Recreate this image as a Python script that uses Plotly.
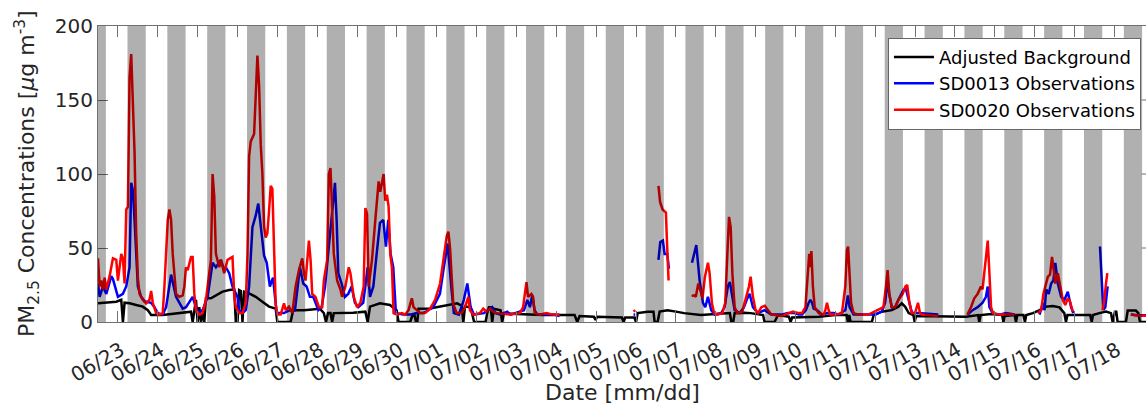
import plotly.graph_objects as go
from datetime import datetime, timedelta

# Hourly PM2.5 records, (hours after 06/23 00:00, value in ug/m3); None marks a data gap
BACKGROUND = [(-12,12.6),(-1,13.7),(2,15),(3,0),(4,13),(7,12.6),(11,11.5),(15,10.4),(18,8),(20,4.7),(27,4.7),(35,5.9),(44,7),(45,0),(46,7),(47,15),(48,0),(49,10),(50,0),(51,6),(52,0),(53,16),(56,16),(59,18),(63,20.5),(67,21.6),(70,22),(71,0),(72,0),(73,21.6),(74,21),(75,0),(76,20.5),(79,19.4),(83,17),(87,13.7),(91,10.4),(95,9),(96,0),(104,0),(105.5,8),(112,8),(121.6,9),(124,6),(125.3,0),(126.5,6),(128,6),(129,0),(130,6),(141.7,6.3),(149,7),(150.4,0),(151.8,10.4),(157.8,12.6),(163.8,11.5),(167.8,8),(169,0),(176,0),(177.5,5),(178.5,5),(179.5,0),(180.3,0),(181,9),(187.9,9.2),(193.9,10.4),(199.9,11.5),(204.3,12.6),(207,11),(208,0),(209,10.4),(212.4,10),(214.5,0),(221.4,0),(222.4,6),(223.4,10),(224.5,10),(225.4,0),(226.4,9),(230.4,8),(231.4,0),(232.4,6),(240,5.4),(256,4.7),(275,4.7),(276.6,0),(278,4),(286.6,3.6),(287.6,1.4),(288.6,3.6),(303.5,3),(304.5,0),(305.5,3),(311,3),(312,0),(313,6),(319,7),(322.5,7),(323.2,0),(325,0),(326.2,7),(331,8),(336,7),(341,6),(351,4.7),(361,5.2),(368.5,6),(369.4,0),(370.5,0),(371.4,6),(377,6.3),(381,6),(388.5,4.7),(389.4,0),(395.4,0),(397.5,4.7),(404,3.6),(405.1,0),(406,3),(422,3.6),(432,4.7),(438.8,4.7),(439.6,0),(440.4,4.7),(441.2,0),(454,0),(455.1,4.7),(460,7),(466,8),(470,10.4),(472,12.6),(474,10.4),(476.2,6),(479,4.7),(479.8,0),(480.6,4),(486,4),(496,3.6),(510.7,3.6),(518,4.7),(518.7,0),(519.5,4.7),(526,5.4),(532.5,4.7),(533.2,0),(534,4),(540,4.7),(540.8,0),(541.6,4.7),(545.3,4.7),(546.2,0),(547,4.7),(551,6),(555,8),(559,10.4),(563,10.8),(567,9.9),(569.9,6),(570.9,0),(571.8,4.7),(579,4.7),(585.5,4.7),(586.4,0),(587.2,4.7),(591,6),(595,7),(598,6),(599,0),(600.4,7),(601.2,7),(602,0),(607,0),(608.1,7.7),(613,7.7),(614.5,6),(615.5,0),(619.5,0)]

SD0013 = [(-12,26),(-11,17),(-9,24),(-7,19),(-4,31),(-3,29),(0,17),(3,19),(5,24),(7,37),(8,94),(9,89),(10,69),(11,42),(12,24),(14,17),(16,14),(20,13),(22,10),(24,6),(27,5),(29,10),(31,24),(32,32),(35,17),(37,13),(39,9),(41,10),(44,15),(45,17),(48,6),(51,8),(54,17),(56,33),(57,40),(59,37),(62,42),(64,35),(65,37),(67,33),(69,24),(72,17),(73,8),(75,6),(77,8),(79,24),(81,64),(83,72),(84.5,80),(86,65),(88,45),(89.6,40),(91.5,24),(93.4,30),(94.5,15),(95.6,6),(100,6),(103.6,8),(106.6,8),(109.6,37),(111.6,26),(113.6,24),(115.6,17),(117.6,17),(120.7,8),(122.7,10),(124.7,24),(126.7,46),(128.7,73),(130.7,94),(131.7,69),(132.7,33),(134.7,26),(136.7,17),(138.7,19),(140.7,24),(142.7,13),(144.7,10),(147.7,13),(150.4,37),(151.8,17),(153.8,24),(155.8,46),(157.8,67),(159.8,69),(161.4,51),(162.8,69),(164.2,46),(165.8,37),(167.4,6),(171.8,5),(175.9,5),(179.9,6),(183.9,6),(189.9,10),(193.9,19),(196,35),(198.5,53),(200.9,22),(202.3,6),(205.3,5),(208.3,15),(210.4,26),(211.4,19),(212.4,10),(214.4,5),(220.4,6),(225.4,10),(227.4,6),(230.4,5),(234.4,7),(236.5,5),(244.5,8),(246.5,15),(248.1,10),(249.5,18),(250.9,8),(252.5,5),(262.5,5),(266,4),(288,None),(310.5,5),(311.5,5),(318,None),(325.5,42),(326.6,54),(328.2,55),(329.2,46),(330.8,46),(331.8,36),(338,None),(345.7,40),(348.3,52),(350.3,28),(352.3,13),(353.7,10),(355.3,17),(357.3,8),(359.3,5),(363.3,6),(365.3,10),(367.3,24),(368.5,27),(370,17),(371.4,8),(374.4,6),(377,10),(379,16),(380.4,19),(382.4,10),(385.4,6),(389.4,8),(393.4,5),(399.5,5),(403.5,6),(407.5,6),(410,5),(412,5),(414.3,8),(416,13),(417,15),(418,13),(419,9),(421,8),(424,5),(427,6),(431,6),(434,5),(438,8),(439.6,18),(440.6,10),(443,5),(456,5),(460,7),(462,13),(463.5,28),(464.5,19),(466,10),(468,10),(470,15),(473.2,22),(474.6,22),(476.2,15),(478.2,6),(482,6),(494,5),(502,None),(511.7,5),(514.7,8),(517.7,10),(520.7,13),(522.7,17),(523.8,24),(524.8,10),(526.8,6),(530.8,5),(534.8,6),(540,5),(547,None),(555,5),(557,13),(558,8),(559,22),(560.5,19),(562,26),(563.3,28),(564.5,40),(566,26),(568,17),(570,15),(572,20.5),(574,10),(575.3,6),(584,None),(591.4,51),(592.6,28),(593.4,8),(594.6,10),(596,24),(603,None),(610,5),(614,4.5),(619.5,4.5)]

SD0020 = [(-12,43),(-11,24),(-10,28),(-9,22),(-8,30),(-7,22),(-5,31),(-3,43),(-1,42),(0,28),(2,46),(3,43),(4,26),(5,76),(6,78),(7,165),(8,181),(9,150),(10,115),(11,60),(12,30),(13,19),(15,15),(17,12.6),(19,15),(20,21),(21,13),(23,6),(25,5),(27,6),(28,24),(30,69),(31,76),(32,69),(33,46),(35,19),(37,17),(39,18),(40,24),(41,37),(42,35),(44,44),(45,44),(46,19),(47,8),(49,5),(51,6),(53,15),(56,42),(57,100),(58,85),(59,46),(61,37),(62,42),(63,37),(64,33),(66,42),(69,44),(70,19),(71,10),(73,6),(75,6),(77,13),(78,46),(79,112),(80,122),(82,127),(84,180),(85,160),(86,120),(87,100),(88,65),(89,57),(90,60),(91,75),(92,92),(93,90),(94,50),(95,12),(96,5),(98,5),(100,12.6),(101,8),(103,10.4),(105,6),(107,24),(109,35),(111,43),(112,33),(113,28),(115,55),(116,42),(117,19),(119,17),(121,10),(123,10),(124,28),(126,42),(127,100),(128,104),(129,69),(130,46),(132,28),(134,22),(135,17),(137,24),(139,37),(140,33),(142,17),(144,10),(146,13),(148,24),(149,77),(150,73),(151,24),(153,42),(155,69),(157,95),(158,88),(160,100),(161,82),(162,86),(163,78),(164,46),(165,37),(166,6),(168,5),(171,6),(173,5),(175,8),(177,16),(178,10),(180,8),(182,6),(185,6),(188,9),(191,15),(194,26),(196,42),(198,58),(199,61),(200,50),(201,30),(202,12),(204,6),(207,6),(209,10),(211,17),(212,8),(214,5),(218,6),(220,9),(222,7),(224,9),(226,7),(228,6),(236,5),(242,6),(244,10),(246,27),(247,17),(249,19),(250,17),(251,6),(254,5),(258,6),(262,5),(266,5),(288,None),(310.5,7),(311.5,8),(318,None),(325.5,92),(326.5,81),(328,76),(330,74),(330.6,55),(331.6,28),(338,None),(345.5,17.6),(347,18),(348,17),(349.5,26),(351,20.5),(352,16),(353.5,30.6),(355.3,40),(356.3,33),(357.7,12.6),(359,6),(361,5),(364,6),(365.7,12.6),(367,46),(368,71),(369,64),(370,33),(371.4,10),(373,6),(376,7),(378,15),(380,24),(381,30.6),(382.4,17),(384,8),(385.5,6),(387.5,10),(389.5,11),(391.5,8),(393.5,5),(399.5,4),(403.5,6),(406.5,7),(410,6),(412,6),(414,10),(415.5,37),(416.3,46),(417,37),(417.6,48),(418.5,24),(419.6,10),(422,6),(425,5),(426,8),(427,13),(428,8),(429,5),(432,5),(436,6),(438,24),(439,48.6),(439.7,51),(440.5,37),(441.5,13),(443,6),(446,5),(452,5),(454,6),(458,8),(461,10),(462.5,24),(463.5,35),(464.5,19),(466,10),(468,10),(470,15),(472.6,19),(474.2,24),(475.3,25),(476.6,13),(478,6),(480,6),(481.8,13),(483,6),(484,5),(494,4),(502,None),(511.5,5),(513.7,10),(515.7,16),(517.7,19),(519.7,24),(520.7,22),(521.7,33),(522.7,46),(523.8,55),(524.8,33),(525.8,10),(527,6),(531,5),(535,5),(540,5),(547,None),(554,6),(556,8),(557.3,19),(558.5,24),(560,30.6),(561.3,32),(562.5,44),(563.3,37),(564.5,26),(566,33),(567.3,24),(569,15),(570.5,11.5),(572,16),(573.3,14),(574.5,8),(575,7),(584,None),(593,8),(594,15),(595,26),(595.8,33),(603,None),(610,5.4),(612,4.5),(616,4.3),(619.5,4.3)]

SERIES_NAMES = ["Adjusted Background", "SD0013 Observations", "SD0020 Observations"]
SERIES_COLORS = ["#000000", "#0000ff", "#ff0000"]

# Daily shaded window (hours of day) and the days it is drawn for
SHADE_START_H = 5.75
SHADE_END_H = 16.75
SHADE_DAYS = list(range(-1, 27))

T0 = datetime(2016, 6, 23)
X_START_H, X_END_H = -12, 619.1
Y_TICKS = [0, 50, 100, 150, 200]


def at(h):
    return T0 + timedelta(hours=h)


AXIS_GRAY = "#707070"
TEXT_GRAY = "#262626"
FONT = "DejaVu Sans"

fig = go.Figure()
for data, name, color in zip([BACKGROUND, SD0013, SD0020], SERIES_NAMES, SERIES_COLORS):
    fig.add_trace(go.Scatter(
        x=[at(h) for h, _ in data],
        y=[v for _, v in data],
        mode="lines", name=name,
        line=dict(color=color, width=2.5),
        connectgaps=False,
    ))

shapes = []
for d in SHADE_DAYS:
    shapes.append(dict(
        type="rect", xref="x", yref="paper",
        x0=at(24 * d + SHADE_START_H), x1=at(24 * d + SHADE_END_H), y0=0, y1=1,
        fillcolor="rgba(0,0,0,0.31)", line=dict(width=0), layer="above",
    ))
# short tick stubs on the right-hand frame
for v in Y_TICKS[1:-1]:
    shapes.append(dict(
        type="line", xref="paper", yref="y", x0=1 - 4.5 / 1048, x1=1, y0=v, y1=v,
        line=dict(color=AXIS_GRAY, width=1), layer="above",
    ))

fig.update_layout(
    width=1146, height=406,
    margin=dict(l=98, r=0, t=26, b=84),
    plot_bgcolor="white", paper_bgcolor="white",
    font=dict(family=FONT, size=20, color=TEXT_GRAY),
    shapes=shapes,
    legend=dict(
        x=0.9952, xanchor="right", y=0.9605, yanchor="top",
        bgcolor="white", bordercolor="#666666", borderwidth=1,
        font=dict(family=FONT, size=18, color="#000000"),
        tracegroupgap=0, itemwidth=40,
    ),
    annotations=[
        dict(text="Date [mm/dd]", xref="paper", yref="paper", x=0.5, y=-0.2365,
             xanchor="center", yanchor="middle", showarrow=False,
             font=dict(family=FONT, size=22, color=TEXT_GRAY)),
        dict(text="PM<sub>2.5</sub> Concentrations [<i>\u03bc</i>g m<sup>-3</sup>]",
             xref="paper", yref="paper", x=-0.0677, y=0.5, textangle=-90,
             xanchor="center", yanchor="middle", showarrow=False,
             font=dict(family=FONT, size=22, color=TEXT_GRAY)),
    ],
)

fig.update_xaxes(
    type="date", range=[at(X_START_H), at(X_END_H)],
    tick0=T0, dtick=86400000, tickformat="%m/%d", tickangle=-30,
    ticks="inside", ticklen=11, tickcolor=AXIS_GRAY, tickwidth=1,
    showline=True, linecolor=AXIS_GRAY, linewidth=1, mirror="ticks",
    showgrid=False, zeroline=False,
    ticklabelstandoff=8, ticklabelshift=3,
    tickfont=dict(family=FONT, size=20, color=TEXT_GRAY),
)
fig.update_yaxes(
    range=[0, 200], tickvals=Y_TICKS,
    ticks="inside", ticklen=10, tickcolor=AXIS_GRAY, tickwidth=1,
    showline=True, linecolor=AXIS_GRAY, linewidth=1,
    showgrid=False, zeroline=False,
    tickfont=dict(family=FONT, size=20, color=TEXT_GRAY),
)

fig.write_html("out.html")
